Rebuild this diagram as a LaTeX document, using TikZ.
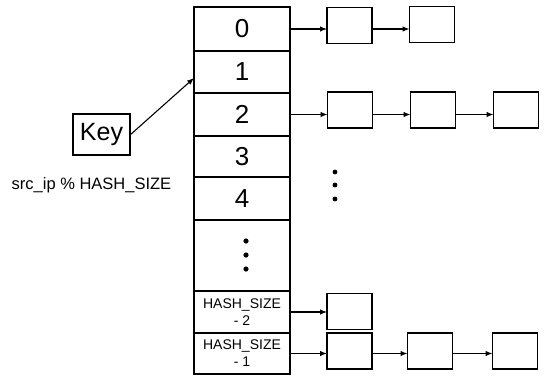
\documentclass[tikz,border=0pt]{standalone}
\usepackage{fontspec}
\setmainfont{Liberation Sans}
\usetikzlibrary{arrows.meta}
\tikzset{
  slot/.style={draw, line width=1.2pt, minimum width=96pt, inner sep=0pt, outer sep=0pt,
    align=center, font=\fontsize{26}{26}\selectfont},
  bigslot/.style={slot, font=\fontsize{14}{17}\selectfont},
  entry/.style={draw, line width=1.2pt, minimum width=45pt, minimum height=36pt,
    inner sep=0pt, outer sep=0pt},
  link/.style={line width=1.1pt, -{Latex[length=7pt,width=5.5pt]}},
}

\begin{document}
\begin{tikzpicture}[x=1pt,y=-1pt]
\useasboundingbox (0,0) rectangle (544,376);

% hash table slots
\node[slot, minimum height=44pt] (c0) at (242,29) {0};
\node[slot, minimum height=42pt] (c1) at (242,72) {1};
\node[slot, minimum height=43pt] (c2) at (242,114.5) {2};
\node[slot, minimum height=41pt] (c3) at (242,156.5) {3};
\node[slot, minimum height=43pt] (c4) at (242,198.5) {4};
\node[slot, minimum height=71pt] (cdots) at (242,255.5) {};
\node[bigslot, minimum height=42pt] (cm2) at (242,312) {HASH\_SIZE\\- 2};
\node[bigslot, minimum height=41pt] (cm1) at (242,353.5) {HASH\_SIZE\\- 1};
\foreach \d in {241,255,269}
  \fill (246,\d) circle (2.6pt);

% key
\node[draw, line width=1.2pt, minimum width=57pt, minimum height=41pt, inner sep=0pt,
  font=\fontsize{25}{25}\selectfont] (key) at (101.5,134.5) {Key};
\node[font=\fontsize{16.5}{18}\selectfont] (hashfn) at (91.5,185) {src\_ip \% HASH\_SIZE};
\coordinate (hit) at ([yshift=-6pt]c1.west);
\draw[link] (key.east) -- (hit);

% chains
\node[entry] (b01) at (349.5,25.5) {};
\node[entry] (b02) at (432,24.5) {};
\draw[link] (c0.east) -- (c0.east -| b01.west);
\draw[link] (b01.east |- c0.east) -- (b02.west |- c0.east);

\node[entry] (b21) at (350,110) {};
\node[entry] (b22) at (433,110) {};
\node[entry] (b23) at (516,110) {};
\draw[link] (c2.east) -- (c2.east -| b21.west);
\draw[link] (b21.east |- c2.east) -- (b22.west |- c2.east);
\draw[link] (b22.east |- c2.east) -- (b23.west |- c2.east);

\foreach \d in {172,185,199}
  \fill (335,\d) circle (2.4pt);

\node[entry] (bm21) at (349.5,311.5) {};
\draw[link] (cm2.east) -- (cm2.east -| bm21.west);

\node[entry] (bm11) at (349.5,351) {};
\node[entry] (bm12) at (430,351) {};
\node[entry] (bm13) at (515,351) {};
\draw[link] (cm1.east) -- (cm1.east -| bm11.west);
\draw[link] (bm11.east |- cm1.east) -- (bm12.west |- cm1.east);
\draw[link] (bm12.east |- cm1.east) -- (bm13.west |- cm1.east);
\end{tikzpicture}
\end{document}
